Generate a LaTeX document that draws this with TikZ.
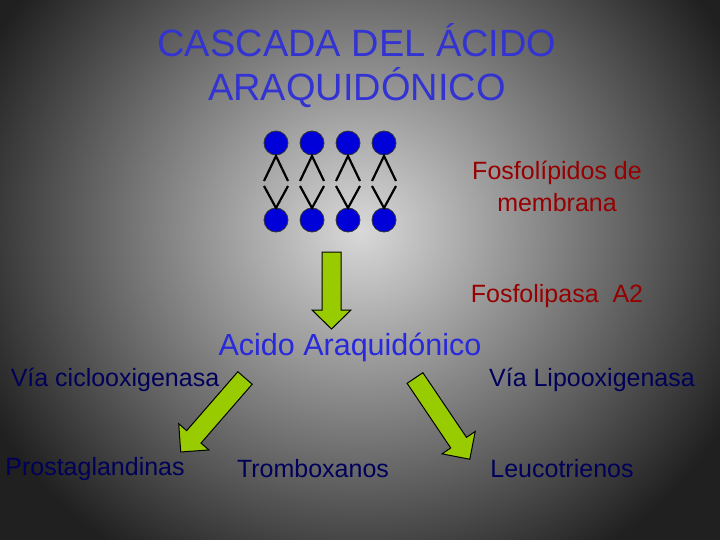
\documentclass[tikz,border=0pt]{standalone}
\usepackage{fontspec}
\setmainfont{Liberation Sans}
\begin{document}
\begin{tikzpicture}[x=1pt,y=-1pt,
  lip/.style={circle,draw=black!80,line width=0.8pt,fill=blue!85!black,minimum size=24pt,inner sep=0pt},
  leg/.style={line width=2.2pt},
  garrow/.style={draw=black,line width=1pt,fill={rgb,255:red,153;green,204;blue,0}},
  lbl/.style={font=\fontsize{25}{32}\selectfont,inner sep=0pt},
  red/.style={lbl,text={rgb,255:red,150;green,0;blue,0}},
  navy/.style={lbl,text={rgb,255:red,0;green,0;blue,90}}]
\useasboundingbox (0,0) rectangle (720,540);
\shade[inner color=gray!30,outer color=gray!25!black] (-60,-160) rectangle (780,620);
\node[lbl,align=center,font=\fontsize{38}{44}\selectfont,text={rgb,255:red,51;green,51;blue,210}] (title) at (357,66) {CASCADA DEL ÁCIDO\\ARAQUIDÓNICO};
\foreach \i/\x in {1/276,2/312,3/348,4/384}{
  \node[lip] (t\i) at (\x,143) {};
  \node[lip] (b\i) at (\x,220) {};
  \coordinate (tl\i) at (\x-12,181);
  \coordinate (tr\i) at (\x+12,181);
  \coordinate (bl\i) at (\x-12,186);
  \coordinate (br\i) at (\x+12,186);
  \draw[leg] (tl\i) -- (\x,156) -- (tr\i);
  \draw[leg] (bl\i) -- (\x,208) -- (br\i);
}
\node[red,align=center] (fos) at (557,186) {Fosfolípidos de\\membrana};
\node[red] (pla) at (557,296) {Fosfolipasa\ \ A2};
\draw[garrow] (322,252) -- (341,252) -- (341,310) -- (351,310) -- (331.5,329) -- (312,310) -- (322,310) -- cycle;
\node[lbl,font=\fontsize{30.5}{36}\selectfont,text={rgb,255:red,40;green,40;blue,220}] (aa) at (350,347) {Acido Araquidónico};
\node[navy] (cox) at (115,380) {Vía ciclooxigenasa};
\node[navy] (lox) at (592,380) {Vía Lipooxigenasa};
\node[navy] (pg) at (95,469) {Prostaglandinas};
\node[navy] (tx) at (313,469) {Tromboxanos};
\node[navy] (lt) at (562,469) {Leucotrienos};
\begin{scope}[shift={(245,378)},rotate=-41]
\draw[garrow] (-9.5,0) -- (9.5,0) -- (9.5,78) -- (20,78) -- (0,98) -- (-20,78) -- (-9.5,78) -- cycle;
\end{scope}
\begin{scope}[shift={(415,378)},rotate=34]
\draw[garrow] (-9.5,0) -- (9.5,0) -- (9.5,78) -- (20,78) -- (0,98) -- (-20,78) -- (-9.5,78) -- cycle;
\end{scope}
\end{tikzpicture}
\end{document}
